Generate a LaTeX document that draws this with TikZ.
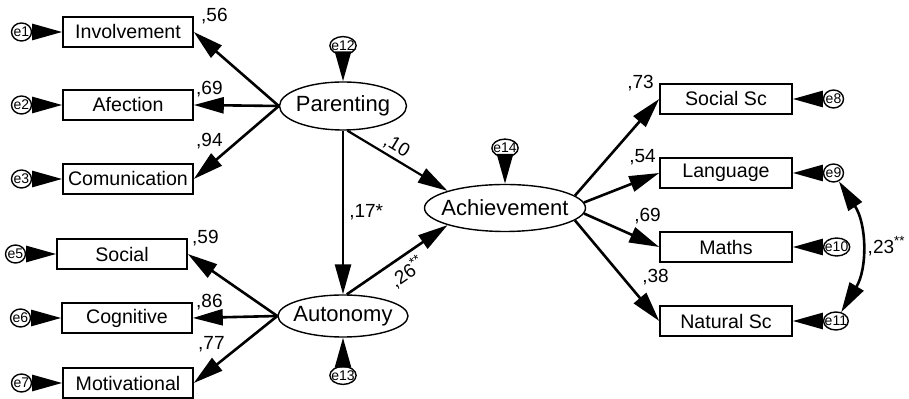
\documentclass[tikz,border=0pt]{standalone}
\usepackage{fontspec}
\setmainfont{Liberation Sans}
\usetikzlibrary{positioning, arrows.meta, shapes.geometric}

\begin{document}
\begin{tikzpicture}[
    x=0.5pt, y=-0.5pt,
    indicator/.style={
      draw, line width=.8pt, minimum width=65pt, minimum height=15pt, inner sep=0pt, font=\fontsize{9.8}{11}\selectfont
    },
    latent/.style={
      ellipse, draw, line width=.7pt, inner xsep=-3.5pt, inner ysep=0pt, font=\fontsize{11}{13}\selectfont
    },
    errorterm/.style={
      ellipse, draw, fill=white, line width=.7pt, inner xsep=-1.2pt, inner ysep=0pt, minimum width=10pt, minimum height=9pt, font=\fontsize{7}{8}\selectfont
    },
    loading/.style={
      inner sep=0pt, font=\fontsize{9.5}{11}\selectfont
    },
    effect/.style={
      ->, line width=1.3pt
    },
    >={Triangle[length=15pt, width=8pt]},
  ]
    \useasboundingbox (0,0) rectangle (909,399);

    % latent variables
    \node [latent, minimum width=63.5pt, minimum height=24pt] (parenting) at (343,106) {Parenting};
    \node [latent, minimum width=65pt, minimum height=21pt] (autonomy) at (343,316) {Autonomy};
    \node [latent, minimum width=80.5pt, minimum height=23.5pt] (achievement) at (505,208) {Achievement};

    % indicators left
    \node [indicator] (involvement) at (128,32) {Involvement};
    \node [indicator] (afection) at (128,105) {Afection};
    \node [indicator] (comunication) at (128,179) {Comunication};
    \node [indicator] (social) at (122,254) {Social};
    \node [indicator] (cognitive) at (127,318) {Cognitive};
    \node [indicator] (motivational) at (128,383) {Motivational};

    % indicators right
    \node [indicator, minimum width=66pt] (socialsc) at (726,99) {Social Sc};
    \node [indicator, minimum width=66pt] (language) at (726,173) {Language};
    \node [indicator, minimum width=66pt] (maths) at (726,247) {Maths};
    \node [indicator, minimum width=66pt] (naturalsc) at (726,321) {Natural Sc};

    % error terms
    \node [errorterm, left=15pt of involvement] (e1) {e1};
    \node [errorterm, left=15pt of afection] (e2) {e2};
    \node [errorterm, left=15pt of comunication] (e3) {e3};
    \node [errorterm, left=15pt of social] (e5) {e5};
    \node [errorterm, left=15pt of cognitive] (e6) {e6};
    \node [errorterm, left=15pt of motivational] (e7) {e7};
    \node [errorterm, right=15pt of socialsc] (e8) {e8};
    \node [errorterm, right=15pt of language] (e9) {e9};
    \node [errorterm, right=15pt of maths] (e10) {e10};
    \node [errorterm, right=15pt of naturalsc] (e11) {e11};
    \node [errorterm, above=13pt of parenting] (e12) {e12};
    \node [errorterm, below=14pt of autonomy] (e13) {e13};
    \node [errorterm, above=13pt of achievement] (e14) {e14};

    % error arrows
    \foreach \e/\v in {e1/involvement, e2/afection, e3/comunication, e5/social, e6/cognitive, e7/motivational,
                       e8/socialsc, e9/language, e10/maths, e11/naturalsc, e12/parenting, e13/autonomy, e14/achievement}
      \draw [effect] (\e) -- (\v);

    % loadings
    \draw [effect] (parenting.west) -- (involvement.east);
    \draw [effect] (parenting.west) -- (afection.east);
    \draw [effect] (parenting.west) -- (comunication.east);
    \draw [effect] (autonomy.west) -- (social.east);
    \draw [effect] (autonomy.west) -- (cognitive.east);
    \draw [effect] (autonomy.west) -- (motivational.east);
    \draw [effect] (achievement.10) -- (socialsc.west);
    \draw [effect] (achievement.4) -- (language.west);
    \draw [effect] (achievement.-4) -- (maths.west);
    \draw [effect] (achievement.-10) -- (naturalsc.west);

    % Labels left
    \node [loading, right=3.5pt of involvement.north east] (l_involvement) {,56};
    \node [loading, right=1pt of afection.north east] (l_afection) {,69};
    \node [loading, above right=7pt and 1pt of comunication.north east] (l_comunication) {,94};
    \node [loading, right=2pt of social.north east] (l_social) {,59};
    \node [loading, right=1.5pt of cognitive.north east] (l_cognitive) {,86};
    \node [loading, above right=7.5pt and 2pt of motivational.north east] (l_motivational) {,77};

    % Labels right
    \node [loading, left=2.5pt of socialsc.north west] (l_socialsc) {,73};
    \node [loading, left=1.5pt of language.north west] (l_language) {,54};
    \node [loading, above left=3.5pt and -1pt of maths.north west] (l_maths) {,69};
    \node [loading, above left=10pt and -5pt of naturalsc.north west] (l_naturalsc) {,38};

    % structural paths
    \draw [effect] (parenting) -- node [loading, right=2.5pt] (l_paraut) {,17*} (autonomy);
    \draw [effect, line width=1.1pt] (parenting.-80) -- node [loading, pos=.43, above=1.5pt, sloped] (l_parach) {,10} (achievement.north west);
    \draw [effect] (autonomy.80) -- node [loading, pos=.51, below=2.5pt, sloped] (l_autach) {,26\textsuperscript{**}} (achievement.south west);

    % covariance
    \draw [<->, line width=1.3pt] (e9) to [bend left=32] node [loading, right=3pt] (l_cov) {,23\textsuperscript{**}} (e11);

  \end{tikzpicture}
\end{document}
